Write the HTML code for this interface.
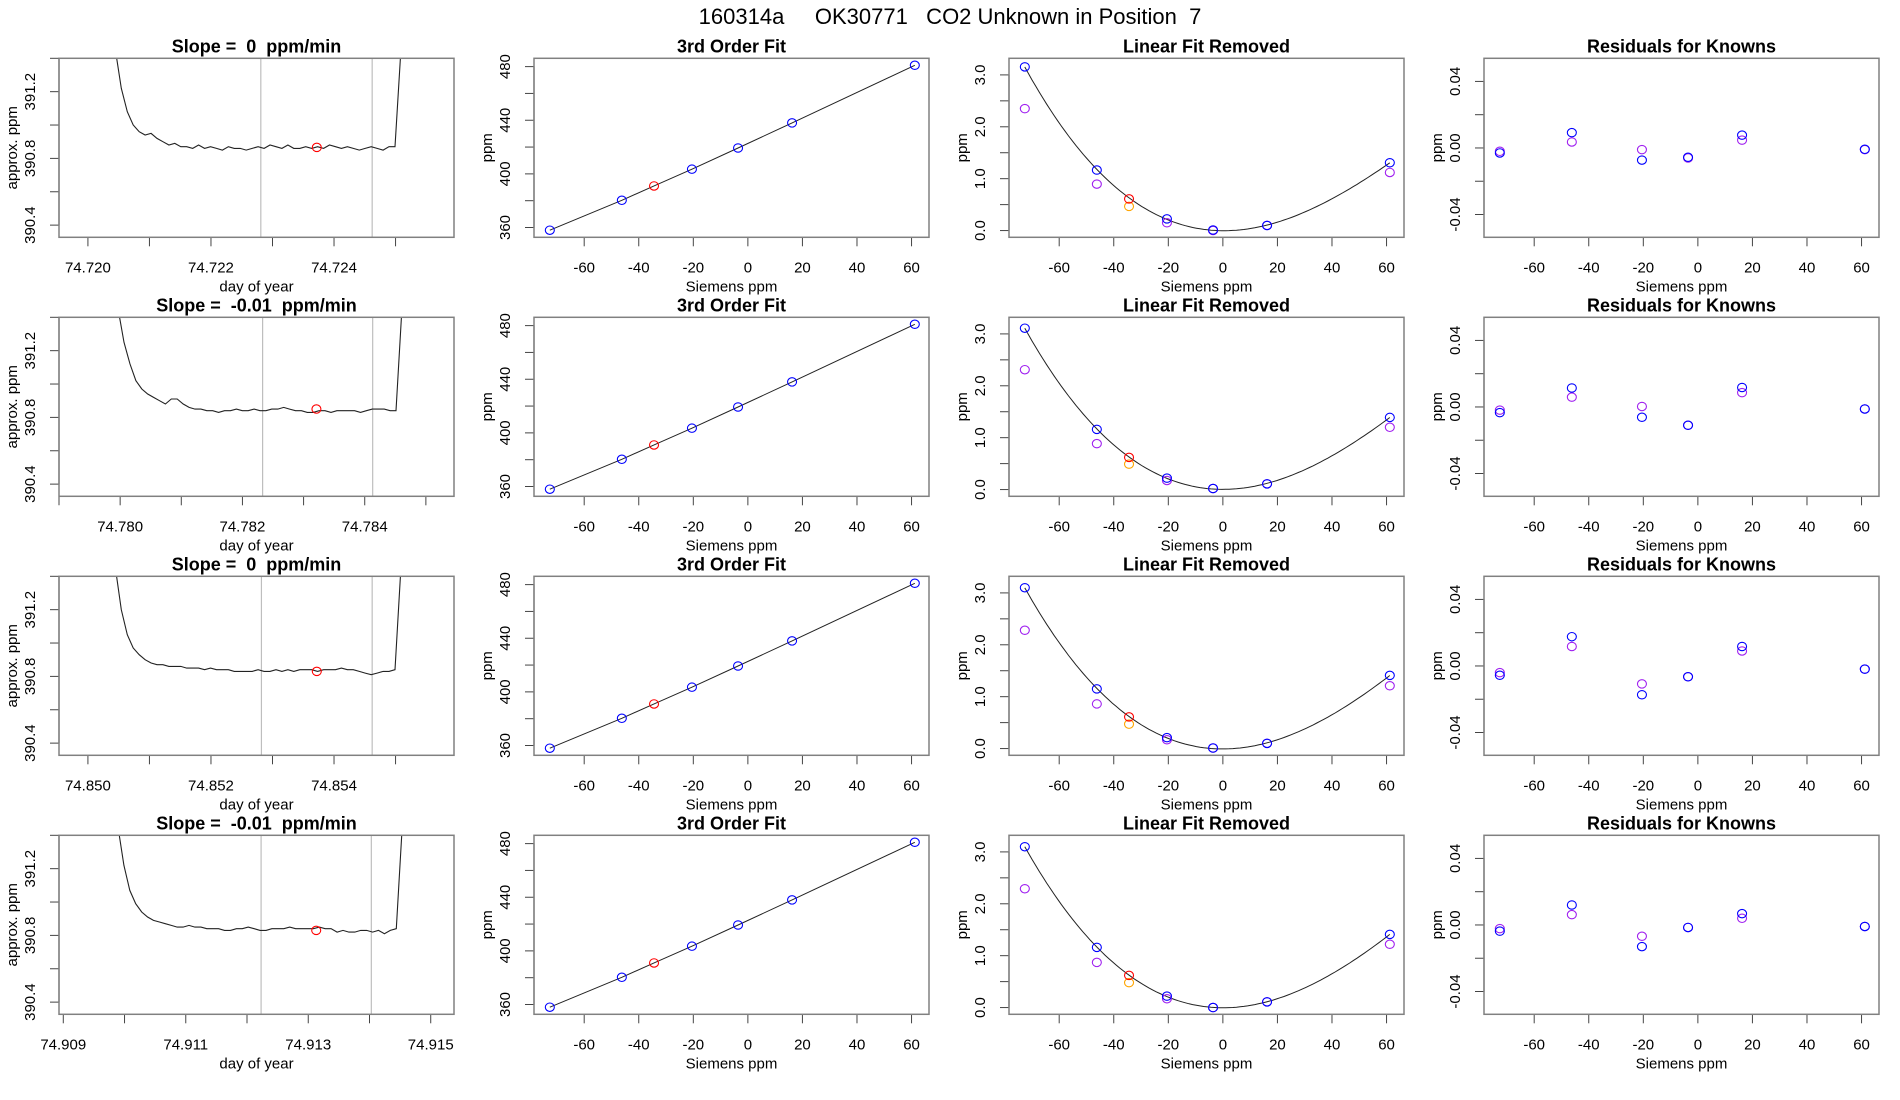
<!DOCTYPE html>
<html><head><meta charset="utf-8">
<style>
html,body{margin:0;padding:0;background:#fff;}
svg{display:block;font-family:"Liberation Sans",sans-serif;}
svg text{white-space:pre;}
</style></head>
<body>
<svg id="fig" width="1900" height="1100" viewBox="0 0 1900 1100" xmlns="http://www.w3.org/2000/svg">
<rect x="0" y="0" width="1900" height="1100" fill="#fff"/>
<text x="950" y="24" text-anchor="middle" font-size="22" xml:space="preserve">160314a     OK30771   CO2 Unknown in Position  7</text>
</svg>
<script>
// ---------- data ----------
const slopeLabels = ["0", "-0.01", "0", "-0.01"];
const dayTickLabels = [
  ["74.720","74.722","74.724"],
  ["74.780","74.782","74.784"],
  ["74.850","74.852","74.854"],
  ["74.909","74.911","74.913","74.915"]
];
const dayTickValues = [
  [74.7195,74.720,74.721,74.722,74.723,74.724,74.725,74.726],
  [74.779,74.780,74.781,74.782,74.783,74.784,74.785],
  [74.8495,74.850,74.851,74.852,74.853,74.854,74.855,74.856],
  [74.909,74.910,74.911,74.912,74.913,74.914,74.915]
];
const dayDomains = [[74.71953,74.72595],[74.77900,74.78546],[74.84953,74.85595],[74.90893,74.91538]];
const traceStart = [74.720446, 74.779967, 74.850446, 74.909893];
const traceSpan = 0.004641;
const trace1 = [391.45,391.22,391.08,391.00,390.96,390.94,390.95,390.92,390.90,390.88,390.89,390.87,390.87,390.86,390.88,390.86,390.87,390.86,390.85,390.87,390.86,390.86,390.85,390.86,390.87,390.86,390.88,390.87,390.86,390.88,390.86,390.86,390.87,390.86,390.87,390.86,390.88,390.87,390.86,390.87,390.86,390.85,390.86,390.87,390.86,390.85,390.87,390.87,391.45];
const trace2 = [391.45,391.25,391.12,391.02,390.97,390.94,390.92,390.90,390.88,390.91,390.91,390.88,390.86,390.85,390.85,390.84,390.84,390.83,390.84,390.84,390.85,390.84,390.84,390.85,390.84,390.84,390.85,390.85,390.86,390.85,390.84,390.84,390.83,390.83,390.84,390.84,390.83,390.84,390.84,390.84,390.84,390.83,390.84,390.85,390.85,390.85,390.84,390.84,391.45];
const trace3 = [391.45,391.20,391.05,390.97,390.93,390.90,390.88,390.87,390.87,390.86,390.86,390.86,390.85,390.85,390.85,390.84,390.85,390.84,390.84,390.84,390.83,390.83,390.83,390.83,390.84,390.83,390.83,390.84,390.83,390.84,390.83,390.84,390.84,390.84,390.83,390.84,390.84,390.84,390.85,390.84,390.84,390.83,390.82,390.81,390.82,390.83,390.83,390.84,391.45];
const trace4 = [391.45,391.22,391.07,390.99,390.94,390.91,390.89,390.88,390.87,390.86,390.85,390.85,390.86,390.85,390.85,390.84,390.84,390.84,390.83,390.83,390.84,390.84,390.85,390.84,390.83,390.83,390.84,390.84,390.84,390.85,390.84,390.84,390.84,390.84,390.85,390.84,390.84,390.82,390.83,390.82,390.82,390.83,390.83,390.82,390.83,390.81,390.83,390.84,391.45];
const traces = [trace1, trace2, trace3, trace4];
const windowStart = [74.72281, 74.78233, 74.85282, 74.91223];
const windowEnd = [74.72462, 74.78413, 74.85462, 74.91403];
const unknownTime = [74.72372, 74.78321, 74.85372, 74.91313];
const unknownValue = [390.866, 390.85, 390.83, 390.83];

const knownX = [-72.6, -46.2, -20.5, -3.6, 16.2, 61.2];
const knownPpm = [358.0, 380.3, 403.5, 419.3, 438.0, 481.0];
const unknownX = -34.4;
const unknownPpm = 391.0;

const linRemBlue = [[3.155,1.167,0.225,0.01,0.097,1.307],[3.11,1.16,0.22,0.02,0.11,1.39],[3.10,1.15,0.21,0.01,0.10,1.41],[3.10,1.16,0.22,0.0,0.11,1.41]];
const linRemPurple = [[2.35,0.895,0.15,0.0,0.10,1.12],[2.31,0.885,0.175,0.02,0.11,1.20],[2.28,0.86,0.17,0.01,0.10,1.21],[2.29,0.87,0.17,0.0,0.11,1.22]];
const linRemRed = [0.61,0.62,0.61,0.62];
const linRemOrange = [0.465,0.49,0.47,0.48];

const residBlue = [[-0.003,0.0092,-0.0073,-0.0056,0.0077,-0.0008],[-0.0034,0.0114,-0.0062,-0.011,0.0117,-0.0012],[-0.0056,0.0176,-0.0173,-0.0065,0.0117,-0.0019],[-0.0037,0.012,-0.013,-0.0015,0.0068,-0.0009]];
const residPurple = [[-0.002,0.0036,-0.001,-0.006,0.0047,-0.001],[-0.0019,0.0059,0.0003,-0.011,0.0086,-0.0012],[-0.004,0.0117,-0.0108,-0.0065,0.009,-0.0019],[-0.0022,0.0062,-0.0068,-0.0015,0.004,-0.0009]];

const siemensTicks = [-60,-40,-20,0,20,40,60];
const ppmTicks = [360,380,400,420,440,460,480];
const ppmTickLabels = ["360","","400","","440","","480"];
const approxTicks = [390.4,390.6,390.8,391.0,391.2,391.4];
const approxTickLabels = ["390.4","","390.8","","391.2",""];
const linTicks = [0,0.5,1,1.5,2,2.5,3];
const linTickLabels = ["0.0","","1.0","","2.0","","3.0"];
const resTicks = [-0.04,-0.02,0,0.02,0.04];
const resTickLabels = ["-0.04","","0.00","","0.04"];

// ---------- layout ----------
const NS = "http://www.w3.org/2000/svg";
const svg = document.getElementById('fig');
const colLeft = [59, 534, 1009, 1484];
const boxW = 395, boxH = 179;
const rowTop = [58.3, 317.3, 576.3, 835.3];
const sDom = [-78.4, 66.4];

function mk(tag, attrs, parent){
  const e = document.createElementNS(NS, tag);
  for (const k in attrs) e.setAttribute(k, attrs[k]);
  (parent||svg).appendChild(e);
  return e;
}
function scale(d, r){ return v => r[0] + (v - d[0]) / (d[1] - d[0]) * (r[1] - r[0]); }

function panel(r, c, name, title, xlab, ylab, xd, yd, xt, xtl, yt, ytl){
  const L = colLeft[c], T = rowTop[r], R = L + boxW, B = T + boxH;
  const g = mk('g', {});
  
  
  const sx = scale(xd, [L, R]), sy = scale(yd, [B, T]);
  const clipId = 'clip' + r + c;
  const cp = mk('clipPath', {id: clipId}, g);
  mk('rect', {x: L, y: T, width: boxW, height: boxH}, cp);
  const t = mk('text', {x: (L+R)/2, y: T - 6, 'text-anchor': 'middle', 'font-size': 18, 'font-weight': 'bold'}, g);
  t.textContent = title;
  
  
  const xa = mk('g', {}, g);
  
  
  xt.forEach((v, i) => {
    const px = sx(v);
    if (px < L - 0.5 || px > R + 0.5) return;
    mk('line', {x1: px, x2: px, y1: B, y2: B + 9, stroke: '#444', 'stroke-width': 1}, xa);
    if (xtl[i]) {
      const tl = mk('text', {x: px, y: B + 35, 'text-anchor': 'middle', 'font-size': 15}, xa);
      tl.textContent = xtl[i];
      
      
    }
  });
  const xl = mk('text', {x: (L+R)/2, y: B + 54, 'text-anchor': 'middle', 'font-size': 15}, g);
  xl.textContent = xlab;
  
  
  const ya = mk('g', {}, g);
  
  
  const vis = yt.filter(v => sy(v) >= T - 0.5 && sy(v) <= B + 0.5);
  mk('line', {x1: L, x2: L, y1: sy(vis[0]), y2: sy(vis[vis.length-1]), stroke: '#444', 'stroke-width': 1.2}, ya);
  yt.forEach((v, i) => {
    const py = sy(v);
    if (py < T - 0.5 || py > B + 0.5) return;
    mk('line', {x1: L - 9, x2: L, y1: py, y2: py, stroke: '#444', 'stroke-width': 1}, ya);
    if (ytl[i]) {
      const tl = mk('text', {x: L - 24, y: py, 'text-anchor': 'middle', 'font-size': 15, transform: `rotate(-90 ${L-24} ${py})`}, ya);
      tl.textContent = ytl[i];
      
      
    }
  });
  const yl = mk('text', {x: L - 42, y: (T+B)/2, 'text-anchor': 'middle', 'font-size': 15, transform: `rotate(-90 ${L-42} ${(T+B)/2})`}, g);
  yl.textContent = ylab;
  
  
  const plot = mk('g', {'clip-path': `url(#${clipId})`}, g);
  
  
  const box = mk('rect', {x: L, y: T, width: boxW, height: boxH, fill: 'none', stroke: '#808080', 'stroke-width': 1.5}, g);
  
  
  return {plot, sx, sy};
}
function circ(p, x, y, color, name){
  const c = mk('ellipse', {cx: p.sx(x), cy: p.sy(y), rx: 4.5, ry: 4.2, fill: 'none', stroke: color, 'stroke-width': 1.1}, p.plot);
  
  
}
function cubicFit(xs, ys){
  const n = 4, A = [];
  for (let i = 0; i < n; i++){ A.push(new Array(n+1).fill(0)); }
  xs.forEach((x, k) => {
    for (let i = 0; i < n; i++){
      for (let j = 0; j < n; j++) A[i][j] += Math.pow(x, i+j);
      A[i][n] += ys[k] * Math.pow(x, i);
    }
  });
  for (let i = 0; i < n; i++){
    let m = i; for (let k = i+1; k < n; k++) if (Math.abs(A[k][i]) > Math.abs(A[m][i])) m = k;
    [A[i], A[m]] = [A[m], A[i]];
    for (let k = i+1; k < n; k++){ const f = A[k][i]/A[i][i]; for (let j = i; j <= n; j++) A[k][j] -= f*A[i][j]; }
  }
  const co = new Array(n).fill(0);
  for (let i = n-1; i >= 0; i--){ let s = A[i][n]; for (let j = i+1; j < n; j++) s -= A[i][j]*co[j]; co[i] = s/A[i][i]; }
  return x => co[0] + co[1]*x + co[2]*x*x + co[3]*x*x*x;
}

for (let r = 0; r < 4; r++){
  const p1 = panel(r, 0, 'trace-panel-' + (r+1), 'Slope =  ' + slopeLabels[r] + '  ppm/min', 'day of year', 'approx. ppm',
    dayDomains[r], [390.327, 391.40], dayTickValues[r],
    dayTickValues[r].map(v => { const s = v.toFixed(3); return dayTickLabels[r].includes(s) ? s : ''; }),
    approxTicks, approxTickLabels);
  [windowStart[r], windowEnd[r]].forEach(t => {
    const l = mk('line', {x1: p1.sx(t), x2: p1.sx(t), y1: 0, y2: 1100, stroke: '#bebebe', 'stroke-width': 1.2}, p1.plot);
    
    
  });
  const tr = traces[r];
  const pts = tr.map((v, i) => `${p1.sx(traceStart[r] + traceSpan * i / (tr.length - 1)).toFixed(1)},${p1.sy(v).toFixed(1)}`).join(' ');
  const pl = mk('polyline', {points: pts, fill: 'none', stroke: '#222', 'stroke-width': 1.1}, p1.plot);
  
  
  circ(p1, unknownTime[r], unknownValue[r], '#ff0000', 'unknown-point');

  const p2 = panel(r, 1, 'fit-panel-' + (r+1), '3rd Order Fit', 'Siemens ppm', 'ppm', sDom, [352.7, 486.2],
    siemensTicks, siemensTicks.map(String), ppmTicks, ppmTickLabels);
  const allX = knownX.concat([unknownX]), allY = knownPpm.concat([unknownPpm]);
  const ord = allX.map((x, i) => i).sort((a, b) => allX[a] - allX[b]);
  const fl = mk('polyline', {points: ord.map(i => `${p2.sx(allX[i])},${p2.sy(allY[i])}`).join(' '), fill: 'none', stroke: '#222', 'stroke-width': 1}, p2.plot);
  
  
  knownX.forEach((x, i) => circ(p2, x, knownPpm[i], '#0000ff', 'known-point'));
  circ(p2, unknownX, unknownPpm, '#ff0000', 'unknown-point');

  const p3 = panel(r, 2, 'linear-removed-panel-' + (r+1), 'Linear Fit Removed', 'Siemens ppm', 'ppm', sDom, [-0.13, 3.32],
    siemensTicks, siemensTicks.map(String), linTicks, linTickLabels);
  const f = cubicFit(knownX, linRemBlue[r]);
  const cp = [];
  for (let k = 0; k <= 100; k++){ const x = knownX[0] + (knownX[5] - knownX[0]) * k / 100; cp.push(`${p3.sx(x).toFixed(1)},${p3.sy(f(x)).toFixed(1)}`); }
  const cl = mk('polyline', {points: cp.join(' '), fill: 'none', stroke: '#222', 'stroke-width': 1}, p3.plot);
  
  
  knownX.forEach((x, i) => circ(p3, x, linRemPurple[r][i], '#a020f0', 'known-point-alt'));
  knownX.forEach((x, i) => circ(p3, x, linRemBlue[r][i], '#0000ff', 'known-point'));
  circ(p3, unknownX, linRemOrange[r], '#ffa500', 'unknown-point-alt');
  circ(p3, unknownX, linRemRed[r], '#ff0000', 'unknown-point');

  const p4 = panel(r, 3, 'residuals-panel-' + (r+1), 'Residuals for Knowns', 'Siemens ppm', 'ppm', sDom, [-0.0537, 0.0539],
    siemensTicks, siemensTicks.map(String), resTicks, resTickLabels);
  knownX.forEach((x, i) => circ(p4, x, residPurple[r][i], '#a020f0', 'residual-point-alt'));
  knownX.forEach((x, i) => circ(p4, x, residBlue[r][i], '#0000ff', 'residual-point'));
}
</script>
</body></html>
